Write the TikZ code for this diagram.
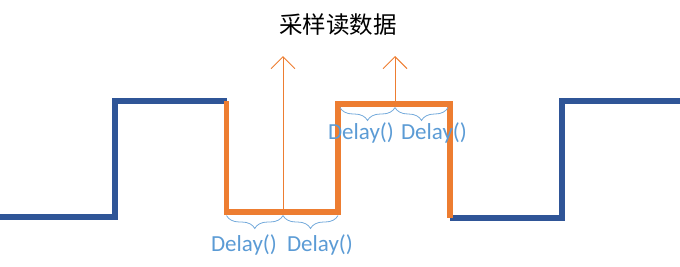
\documentclass[tikz,border=0pt]{standalone}
\usepackage{fontspec}
\setmainfont{Carlito}
\newfontfamily\cjk{Noto Sans CJK SC}
\usetikzlibrary{arrows.meta,decorations.pathreplacing}
\definecolor{sigblue}{HTML}{2F5597}
\definecolor{sigorange}{HTML}{ED7D31}
\definecolor{lblblue}{HTML}{5B9BD5}
\tikzset{
  bluesig/.style={draw=sigblue,line width=5.5pt,line join=miter},
  orangesig/.style={draw=sigorange,line width=5.5pt,line join=miter},
  samplearrow/.style={draw=sigorange,line width=0.9pt,-{Straight Barb[length=12pt,width=24pt,line width=0.9pt]}},
  delaybrace/.style={draw=lblblue!85,line width=0.8pt,decorate,decoration={brace,amplitude=13pt}},
  delaylbl/.style={text=lblblue,font=\fontsize{23}{25}\selectfont,inner sep=0pt}
}
\begin{document}
\begin{tikzpicture}[x=1pt,y=-1pt]
\useasboundingbox (0,0) rectangle (680,266);
% key points
\coordinate (b0) at (0,217);
\coordinate (b1) at (115,217);
\coordinate (b2) at (115,101);
\coordinate (o0) at (226.5,101);
\coordinate (o1) at (226.5,212);
\coordinate (om) at (283,212);
\coordinate (o2) at (338,212);
\coordinate (o3) at (338,104);
\coordinate (on) at (395,104);
\coordinate (o4) at (450,104);
\coordinate (o5) at (450,218);
\coordinate (b3) at (562,218);
\coordinate (b4) at (562,101);
\coordinate (b5) at (680,101);
\coordinate (t1) at (283,56);
\coordinate (t2) at (395,56);
% blue signal
\draw[bluesig] (b0) -- (b1) -- (b2) -- (o0);
\draw[bluesig] (o5) -- (b3) -- (b4) -- (b5);
% orange signal
\draw[orangesig] (o0) -- (o1) -- (o2) -- (o3) -- (o4) -- (o5);
% sampling arrows
\draw[samplearrow] (om) -- (t1);
\draw[samplearrow] (on) -- (t2);
% title
\node[font=\cjk\fontsize{23.5}{25}\selectfont,inner sep=0pt] (title) at (338,25) {采样读数据};
% bottom braces
\draw[delaybrace] ([yshift=-3.5pt]om) -- ([yshift=-3.5pt]o1);
\draw[delaybrace] ([yshift=-3.5pt]o2) -- ([yshift=-3.5pt]om);
\node[delaylbl] (d1) at (244,245) {Delay()};
\node[delaylbl] (d2) at (320,245) {Delay()};
% top braces
\draw[delaybrace] ([yshift=-3.5pt]on) -- ([yshift=-3.5pt,xshift=2pt]o3);
\draw[delaybrace] ([yshift=-3.5pt,xshift=-2pt]o4) -- ([yshift=-3.5pt]on);
\node[delaylbl] (d3) at (361,133) {Delay()};
\node[delaylbl] (d4) at (434,133) {Delay()};
\end{tikzpicture}
\end{document}
